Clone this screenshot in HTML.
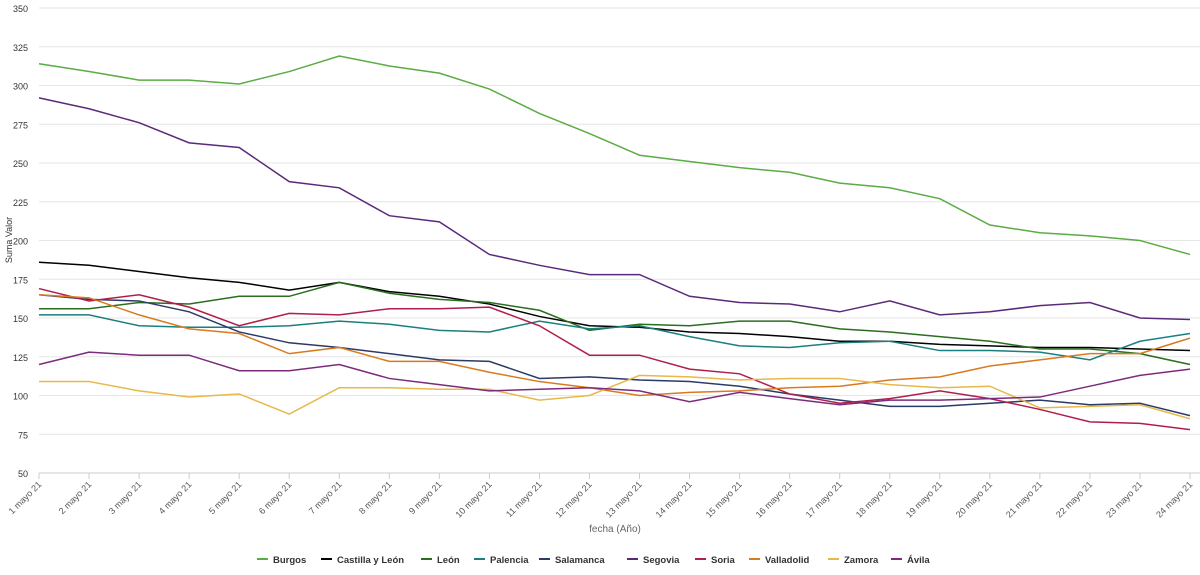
<!DOCTYPE html>
<html><head><meta charset="utf-8"><style>
body{margin:0;background:#fff;font-family:"Liberation Sans",sans-serif}
svg text{font-family:"Liberation Sans",sans-serif}
</style></head><body>
<svg id="c" width="1200" height="570"></svg>
<script>
const categories=["1 mayo 21","2 mayo 21","3 mayo 21","4 mayo 21","5 mayo 21","6 mayo 21","7 mayo 21","8 mayo 21","9 mayo 21","10 mayo 21","11 mayo 21","12 mayo 21","13 mayo 21","14 mayo 21","15 mayo 21","16 mayo 21","17 mayo 21","18 mayo 21","19 mayo 21","20 mayo 21","21 mayo 21","22 mayo 21","23 mayo 21","24 mayo 21"];
const yTicks=[50,75,100,125,150,175,200,225,250,275,300,325,350];
const seriesNames=["Burgos","Castilla y León","León","Palencia","Salamanca","Segovia","Soria","Valladolid","Zamora","Ávila"];
const seriesColors=["#5aac44","#000000","#2a6e1e","#1a7f7f","#2b3a67","#5a2a7a","#b01e4a","#d97a1e","#e8b84a","#7d2a7d"];
const burgos=[314,309,303.5,303.5,301,309,319,312.6,308,297.7,282,269,255,251,247,244,237,234,227,210,205,203,200,191];
const castilla=[186,184,180,176,173,168,173,167,164,159,151,145,144,141,140,138,135,135,133,132,131,131,130,129];
const leon=[156,156,160,159,164,164,173,166,162,160,155,142,146,145,148,148,143,141,138,135,130,130,127,120];
const palencia=[152,152,145,144,144,145,148,146,142,141,148,143,145,138,132,131,134,135,129,129,128,123,135,140];
const salamanca=[165,162,161,154,141,134,131,127,123,122,111,112,110,109,106,101,97,93,93,95,97,94,95,87];
const segovia=[292,285,276,263,260,238,234,216,212,191,184,178,178,164,160,159,154,161,152,154,158,160,150,149];
const soria=[169,161,165,157,145,153,152,156,156,157,145,126,126,117,114,101,95,98,103,98,91,83,82,78];
const valladolid=[165,163,152,143,140,127,131,122,122,115,109,105,100,102,103,105,106,110,112,119,123,127,127,137];
const zamora=[109,109,103,99,101,88,105,105,104,104,97,100,113,112,110,111,111,107,105,106,92,93,94,85];
const avila=[120,128,126,126,116,116,120,111,107,103,104,105,103,96,102,98,94,97,97,98,99,106,113,117];
const seriesValues=[burgos,castilla,leon,palencia,salamanca,segovia,soria,valladolid,zamora,avila];

const svg=document.getElementById('c');const NS="http://www.w3.org/2000/svg";
const X0=39,X1=1190,Y0=473,Y1=8;
const xs=i=>X0+(X1-X0)*i/(categories.length-1);
const ys=v=>Y0-(v-50)/300*(Y0-Y1);
function mk(t,a,p){const e=document.createElementNS(NS,t);for(const k in a)e.setAttribute(k,a[k]);(p||svg).appendChild(e);return e;}
yTicks.forEach(v=>{
 const l=mk('line',{x1:X0,x2:X1+10,y1:ys(v),y2:ys(v),stroke:v==50?'#ccc':'#e6e6e6','stroke-width':1});
 
 
 const t=mk('text',{x:28,y:ys(v)+4,'text-anchor':'end','font-size':9,fill:'#333'});t.textContent=v;
 
 
});
categories.forEach((c,i)=>{
 const tk=mk('line',{x1:xs(i),x2:xs(i),y1:Y0,y2:Y0+6,stroke:'#ccc'});
 
 
 const t=mk('text',{x:xs(i)+3,y:Y0+12,'text-anchor':'end','font-size':9,fill:'#555',transform:`rotate(-45 ${xs(i)+3} ${Y0+12})`});t.textContent=c;
 
 
});
let yt=mk('text',{x:12,y:240,'text-anchor':'middle','font-size':9,fill:'#333',transform:'rotate(-90 12 240)'});yt.textContent='Suma Valor';


let xt=mk('text',{x:615,y:532,'text-anchor':'middle','font-size':10,fill:'#666'});xt.textContent='fecha (Año)';


seriesValues.forEach((vals,s)=>{
 const p=mk('path',{d:vals.map((v,i)=>(i?'L':'M')+xs(i)+' '+ys(v)).join(''),fill:'none',stroke:seriesColors[s],'stroke-width':1.5});
 
 
});
const legX=[257,321,421,474,539,627,695,749,828,891];
seriesNames.forEach((n,s)=>{
 const g=mk('g',{});
 
 
 mk('line',{x1:legX[s],x2:legX[s]+11,y1:559,y2:559,stroke:seriesColors[s],'stroke-width':2},g);
 const t=mk('text',{x:legX[s]+16,y:563,'font-size':9.5,'font-weight':'bold',fill:'#333'},g);t.textContent=n;
});
</script>
</body></html>
